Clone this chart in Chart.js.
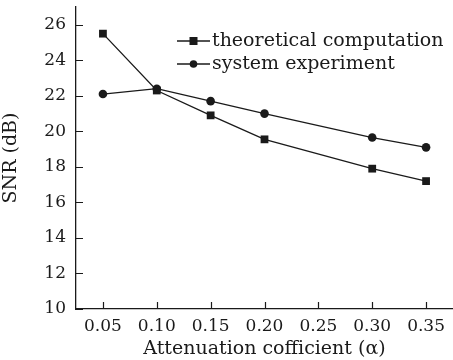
<!DOCTYPE html>
<html>
<head>
<meta charset="utf-8">
<script src="https://cdn.jsdelivr.net/npm/chart.js@4"></script>
<style>
  html, body { margin: 0; padding: 0; background: #fff; }
  #wrap { width: 453px; height: 360px; }
</style>
</head>
<body>
<div id="wrap"><canvas id="snrChart" width="453" height="360"></canvas></div>
<script>
// values
var alphaValues = [0.05, 0.10, 0.15, 0.20, 0.30, 0.35];
var theoretical = [25.5, 22.3, 20.9, 19.55, 17.9, 17.2];
var experiment = [22.1, 22.4, 21.7, 21.0, 19.65, 19.1];
var seriesNames = ['theoretical computation', 'system experiment'];
var xTicks = [0.05, 0.10, 0.15, 0.20, 0.25, 0.30, 0.35];
var yTicks = [10, 12, 14, 16, 18, 20, 22, 24, 26];

var FONT = 'DejaVu Serif';
var INK = '#1a1a1a';

function toPoints(xs, ys) {
  return xs.map(function(x, i) { return { x: x, y: ys[i] }; });
}

// short tick marks pointing into the plot
var innerTicks = {
  id: 'innerTicks',
  afterDraw: function(chart) {
    var ctx = chart.ctx, x = chart.scales.x, y = chart.scales.y;
    var area = chart.chartArea;
    ctx.save();
    ctx.strokeStyle = INK;
    ctx.lineWidth = 1.2;
    ctx.beginPath();
    xTicks.forEach(function(v) {
      var px = Math.round(x.getPixelForValue(v)) + 0.5;
      ctx.moveTo(px, area.bottom);
      ctx.lineTo(px, area.bottom - 7);
    });
    yTicks.forEach(function(v) {
      var py = Math.round(y.getPixelForValue(v)) + 0.5;
      ctx.moveTo(area.left, py);
      ctx.lineTo(area.left + 7, py);
    });
    ctx.stroke();
    ctx.restore();
  }
};

// legend with line + marker, drawn inside the plot
var lineLegend = {
  id: 'lineLegend',
  afterDraw: function(chart) {
    var ctx = chart.ctx;
    var x0 = 177, y0 = 41, rowH = 23;
    ctx.save();
    ctx.font = '19px "' + FONT + '"';
    ctx.fillStyle = INK;
    ctx.strokeStyle = INK;
    ctx.textBaseline = 'middle';
    chart.data.datasets.forEach(function(ds, i) {
      var yy = y0 + i * rowH;
      ctx.lineWidth = 1.3;
      ctx.beginPath();
      ctx.moveTo(x0, yy);
      ctx.lineTo(x0 + 33, yy);
      ctx.stroke();
      var cx = x0 + 16.5;
      if (ds.pointStyle === 'rect') {
        ctx.fillRect(cx - 4, yy - 4, 8, 8);
      } else {
        ctx.beginPath();
        ctx.arc(cx, yy, 3.8, 0, Math.PI * 2);
        ctx.fill();
      }
      ctx.fillText(ds.label, x0 + 35, yy);
    });
    ctx.restore();
  }
};

var ctx = document.getElementById('snrChart').getContext('2d');

var snrChart = new Chart(ctx, {
  type: 'line',
  data: {
    datasets: [
      {
        label: seriesNames[0],
        data: toPoints(alphaValues, theoretical),
        borderColor: INK,
        backgroundColor: INK,
        borderWidth: 1.3,
        pointStyle: 'rect',
        pointRadius: 5.5,
        pointBorderWidth: 0,
        tension: 0
      },
      {
        label: seriesNames[1],
        data: toPoints(alphaValues, experiment),
        borderColor: INK,
        backgroundColor: INK,
        borderWidth: 1.3,
        pointStyle: 'circle',
        pointRadius: 4.3,
        pointBorderWidth: 0,
        tension: 0
      }
    ]
  },
  options: {
    responsive: false,
    animation: false,
    layout: { autoPadding: false, padding: { top: 7, right: 0, left: 0, bottom: 0 } },
    plugins: {
      legend: { display: false },
      tooltip: { enabled: false }
    },
    scales: {
      x: {
        type: 'linear',
        min: 0.025,
        max: 0.375,
        afterBuildTicks: function(s) {
          s.ticks = xTicks.map(function(v) { return { value: v }; });
        },
        afterFit: function(s) {
          s.height = 51;
          s.paddingLeft = 0;
          s.paddingRight = 0;
        },
        grid: { display: false, drawTicks: false },
        border: { display: true, color: INK, width: 1.3 },
        ticks: {
          color: INK,
          padding: 7,
          maxRotation: 0,
          font: { family: FONT, size: 17 },
          callback: function(v) { return v.toFixed(2); }
        },
        title: {
          display: true,
          text: 'Attenuation cofficient (α)',
          color: INK,
          padding: { top: 0, bottom: 0 },
          font: { family: FONT, size: 19 }
        }
      },
      y: {
        min: 10,
        max: 27,
        afterBuildTicks: function(s) {
          s.ticks = yTicks.map(function(v) { return { value: v }; });
        },
        afterFit: function(s) {
          s.width = 76;
          s.paddingTop = 0;
          s.paddingBottom = 0;
        },
        grid: { display: false, drawTicks: false },
        border: { display: true, color: INK, width: 1.3 },
        ticks: {
          color: INK,
          padding: 10,
          font: { family: FONT, size: 17 }
        },
        title: {
          display: true,
          text: 'SNR (dB)',
          color: INK,
          padding: { top: 0, bottom: 2 },
          font: { family: FONT, size: 19 }
        }
      }
    }
  },
  plugins: [innerTicks, lineLegend]
});
</script>
</body>
</html>
